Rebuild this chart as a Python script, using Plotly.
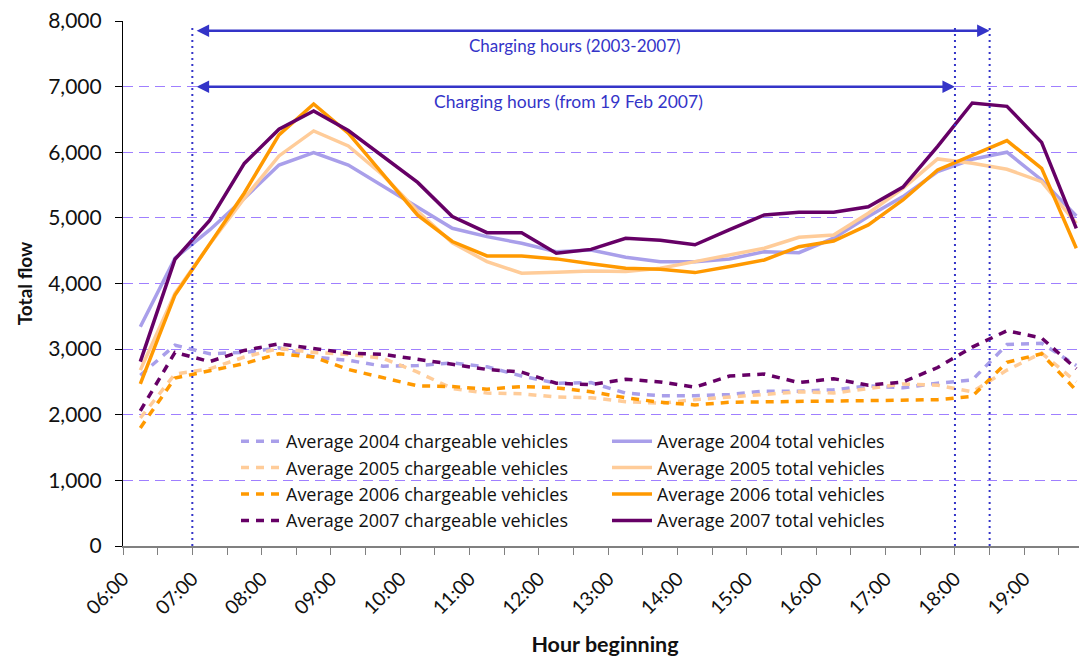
import plotly.graph_objects as go

# Half-hour slots ("hour beginning"), each plotted at the middle of its slot
slots = ["06:00", "06:30", "07:00", "07:30", "08:00", "08:30", "09:00", "09:30",
         "10:00", "10:30", "11:00", "11:30", "12:00", "12:30", "13:00", "13:30",
         "14:00", "14:30", "15:00", "15:30", "16:00", "16:30", "17:00", "17:30",
         "18:00", "18:30", "19:00", "19:30"]
hour_labels = ["06:00", "07:00", "08:00", "09:00", "10:00", "11:00", "12:00",
               "13:00", "14:00", "15:00", "16:00", "17:00", "18:00", "19:00"]

total_2004 = [3342, 4385, 4816, 5300, 5806, 5994, 5806, 5485, 5163, 4842, 4714, 4613, 4485, 4511,
              4400, 4333, 4333, 4374, 4485, 4470, 4690, 5020, 5324, 5705, 5893, 6000, 5578, 5029]
total_2005 = [2680, 3850, 4600, 5300, 5944, 6325, 6096, 5650, 5100, 4620, 4333, 4156, 4171, 4191,
              4181, 4232, 4333, 4435, 4537, 4704, 4740, 5070, 5450, 5898, 5832, 5741, 5552, 4918]
total_2006 = [2470, 3825, 4600, 5380, 6264, 6736, 6290, 5670, 5040, 4640, 4420, 4420, 4375, 4300,
              4232, 4217, 4166, 4260, 4359, 4561, 4648, 4892, 5273, 5730, 5959, 6177, 5756, 4537]
total_2007 = [2810, 4370, 4960, 5830, 6350, 6630, 6330, 5940, 5540, 5020, 4775, 4775, 4460, 4520,
              4690, 4660, 4590, 4820, 5045, 5085, 5085, 5170, 5470, 6090, 6750, 6700, 6150, 4840]

charge_2004 = [2600, 3060, 2930, 2950, 3020, 2880, 2830, 2740, 2750, 2790, 2730, 2590, 2480, 2490,
               2330, 2290, 2290, 2310, 2360, 2360, 2380, 2440, 2410, 2480, 2530, 3070, 3090, 2750]
charge_2005 = [1950, 2620, 2700, 2880, 3010, 2950, 2920, 2860, 2650, 2400, 2330, 2320, 2270, 2260,
               2200, 2175, 2230, 2270, 2320, 2350, 2330, 2400, 2470, 2450, 2350, 2680, 2940, 2500]
charge_2006 = [1800, 2560, 2670, 2780, 2930, 2880, 2690, 2570, 2440, 2430, 2390, 2430, 2410, 2350,
               2260, 2190, 2150, 2190, 2200, 2200, 2210, 2215, 2220, 2230, 2280, 2800, 2930, 2370]
charge_2007 = [2060, 2950, 2810, 2980, 3080, 3010, 2940, 2920, 2850, 2770, 2690, 2650, 2480, 2460,
               2540, 2500, 2420, 2590, 2620, 2490, 2550, 2450, 2500, 2720, 3030, 3280, 3170, 2700]

years = ["2004", "2005", "2006", "2007"]
colors = ["#A99FEA", "#FFCC99", "#FF9900", "#660066"]
totals = [total_2004, total_2005, total_2006, total_2007]
charges = [charge_2004, charge_2005, charge_2006, charge_2007]

# Charging periods (hours)
charge_old = ("07:00", "18:30")
charge_new = ("07:00", "18:00")


def to_hours(s):
    h, m = s.split(":")
    return int(h) + int(m) / 60


x_mid = [to_hours(s) + 0.25 for s in slots]

FONT = "Lato, 'Open Sans', sans-serif"
LEG_FONT = "'Open Sans', Lato, sans-serif"
BLUE = "#3434C8"

fig = go.Figure()

for yr, col, vals in zip(years, colors, charges):
    fig.add_trace(go.Scatter(
        x=x_mid, y=vals, mode="lines", name=f"Average {yr} chargeable vehicles",
        line=dict(color=col, width=3.5, dash="8px,7px"), legend="legend"))

for yr, col, vals in zip(years, colors, totals):
    fig.add_trace(go.Scatter(
        x=x_mid, y=vals, mode="lines", name=f"Average {yr} total vehicles",
        line=dict(color=col, width=3.5), legend="legend2"))

tickvals = [to_hours(s) for s in slots]
ticktext = [s if s in hour_labels else "" for s in slots]

PLOT_W = 964
x_end = 6 + PLOT_W / 69.33

fig.update_xaxes(
    range=[6, x_end], tickmode="array", tickvals=tickvals, ticktext=ticktext,
    tickangle=-45, ticks="outside", ticklen=7, tickcolor="#808080",
    showline=True, linecolor="#808080", linewidth=1.5, showgrid=False, zeroline=False,
    tickfont=dict(family=FONT, size=19.5, color="#111"), ticklabelstandoff=5,
    title=dict(text="<b>Hour beginning</b>", font=dict(family=FONT, size=21.5, color="#111"),
               standoff=20),
)
fig.update_yaxes(
    range=[0, 8000], dtick=1000, tickformat=",", ticks="outside", ticklen=7,
    tickcolor="#000", showline=True, linecolor="#000", linewidth=1.2,
    showgrid=True, gridcolor="#9F7FFF", griddash="10px,6px", gridwidth=1,
    zeroline=False, ticklabeloverflow="allow", ticklabelstandoff=9,
    tickfont=dict(family=FONT, size=21, color="#111"),
    title=dict(text="<b>Total flow</b>", font=dict(family=FONT, size=19, color="#111"),
               standoff=10),
)

# white box behind the legend (hides the gridline)
fig.add_shape(type="rect", xref="paper", yref="paper", x0=(217 - 123) / 964, x1=(956 - 123) / 964,
              y0=(546 - 540) / 525, y1=(546 - 425) / 525, fillcolor="white",
              line=dict(width=0), layer="between")

# vertical dotted lines for charging boundaries
for t in sorted({charge_old[0], charge_old[1], charge_new[1]}):
    fig.add_shape(type="line", xref="x", yref="y", x0=to_hours(t), x1=to_hours(t),
                  y0=0, y1=7950, line=dict(color=BLUE, width=2, dash="2px,4px"), layer="above")

# double-headed arrows
for (t0, t1), yv in [(charge_old, 7850), (charge_new, 7000)]:
    fig.add_annotation(x=to_hours(t1), y=yv, ax=to_hours(t0) + 0.04, ay=yv, xref="x", yref="y",
                       axref="x", ayref="y", text="", showarrow=True, arrowhead=2,
                       arrowside="end+start", arrowsize=1, arrowwidth=2.5, arrowcolor=BLUE,
                       standoff=0, startstandoff=0)

fig.add_annotation(x=12.52, y=7630, xref="x", yref="y", text="Charging hours (2003-2007)",
                   showarrow=False, font=dict(family=FONT, size=17, color=BLUE))
fig.add_annotation(x=12.42, y=6780, xref="x", yref="y", text="Charging hours (from 19 Feb 2007)",
                   showarrow=False, font=dict(family=FONT, size=17.5, color=BLUE))

legend_common = dict(bgcolor="rgba(0,0,0,0)", borderwidth=0, xanchor="left", yanchor="top",
                     font=dict(family=LEG_FONT, size=18, color="#111"), tracegroupgap=0,
                     itemwidth=40)
# the page adds an 8px body margin, so the figure is drawn 8px smaller
fig.update_layout(
    width=1079, height=649,
    margin=dict(l=115, r=0, t=13, b=111),
    plot_bgcolor="white", paper_bgcolor="white",
    font=dict(family=FONT),
    legend=dict(x=(236 - 123) / 964, y=(546 - 423) / 525, **legend_common),
    legend2=dict(x=(607 - 123) / 964, y=(546 - 423) / 525, **legend_common),
)

fig.write_html("out.html")
